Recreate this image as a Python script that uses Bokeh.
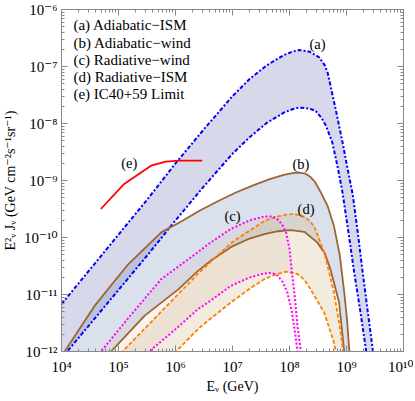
import numpy as np
from bokeh.plotting import figure
from bokeh.models import FixedTicker, LogAxis, Label, CustomJSTickFormatter
from bokeh.core.properties import value
from bokeh.embed import file_html
from bokeh.resources import INLINE

# ---------------- data (log10 E [GeV], log10 E^2 J [GeV cm^-2 s^-1 sr^-1]) ----------------
a_up_logE = [4.0, 4.5, 5.0, 5.5, 6.0, 6.5, 7.0, 7.3, 7.6, 7.9, 8.05, 8.17, 8.35, 8.52, 8.62, 8.67, 8.72,
             8.81, 8.93, 9.05, 9.11, 9.20, 9.28, 9.37, 9.46, 9.48]
a_up_logF = [-11.17, -10.56, -9.95, -9.34, -8.70, -8.10, -7.52, -7.22, -6.98, -6.80, -6.74, -6.71, -6.74, -6.84, -6.98, -7.11,
             -7.34, -7.75, -8.33, -8.95, -9.25, -9.93, -10.58, -11.28, -11.96, -12.1]
a_lo_logE = [4.0, 4.5, 5.0, 5.5, 6.0, 6.5, 7.0, 7.3, 7.6, 7.9, 8.05, 8.17, 8.35, 8.46, 8.56, 8.64, 8.75,
             8.84, 8.93, 9.03, 9.13, 9.24, 9.34, 9.36]
a_lo_logF = [-12.12, -11.52, -10.92, -10.32, -9.70, -9.10, -8.53, -8.24, -7.99, -7.81, -7.75, -7.72, -7.74, -7.78, -7.90, -8.04,
             -8.33, -8.74, -9.21, -9.88, -10.58, -11.28, -11.96, -12.1]

b_up_logE = [4.0, 4.06, 4.58, 5.17, 5.75, 6.1, 6.42, 6.75, 7.06, 7.35, 7.64, 7.9, 8.05, 8.17, 8.28, 8.37, 8.45, 8.55,
             8.67, 8.78, 8.88, 8.96, 9.01, 9.05, 9.06]
b_up_logF = [-12.1, -11.99, -11.2, -10.47, -9.91, -9.72, -9.53, -9.36, -9.21, -9.09, -8.98, -8.90, -8.87, -8.86, -8.88, -8.94,
             -9.03, -9.21, -9.45, -9.80, -10.3, -10.96, -11.45, -12.0, -12.1]
b_lo_logE = [4.85, 4.88, 5.46, 6.05, 6.39, 6.63, 6.97, 7.27, 7.56, 7.80, 8.02, 8.26, 8.49, 8.62, 8.72, 8.87, 8.96, 8.97]
b_lo_logF = [-12.05, -11.99, -11.37, -10.91, -10.59, -10.40, -10.17, -10.03, -9.94, -9.89, -9.87, -9.90, -10.09, -10.28,
             -10.56, -11.14, -12.0, -12.1]

c_up_logE = [4.68, 4.70, 5.2, 5.75, 6.39, 6.57, 6.97, 7.3, 7.56, 7.70, 7.79, 7.87, 7.94, 8.00, 8.05, 8.10, 8.14, 8.20, 8.21]
c_up_logF = [-12.05, -11.99, -11.38, -10.73, -10.26, -10.12, -9.85, -9.70, -9.63, -9.63, -9.68, -9.77, -9.91, -10.20, -10.67,
             -11.1, -11.55, -12.0, -12.1]
c_lo_logE = [5.53, 5.55, 6.0, 6.39, 6.57, 6.97, 7.3, 7.56, 7.70, 7.79, 7.88, 7.96, 8.03, 8.08, 8.14, 8.15]
c_lo_logF = [-12.05, -11.99, -11.61, -11.26, -11.14, -10.85, -10.70, -10.63, -10.62, -10.67, -10.78, -10.96, -11.25, -11.55,
             -12.0, -12.1]

d_up_logE = [5.06, 5.08, 5.75, 6.39, 6.97, 7.3, 7.56, 7.75, 7.94, 8.07, 8.20, 8.32, 8.43, 8.61, 8.78, 8.90, 8.94, 8.95]
d_up_logF = [-12.05, -11.99, -11.30, -10.64, -10.10, -9.88, -9.71, -9.64, -9.60, -9.59, -9.61, -9.68, -9.80, -10.26, -10.96,
             -11.67, -12.0, -12.1]
d_lo_logE = [6.00, 6.02, 6.39, 6.57, 6.97, 7.3, 7.56, 7.75, 7.94, 8.14, 8.26, 8.37, 8.61, 8.78, 8.81, 8.82]
d_lo_logF = [-12.05, -11.99, -11.61, -11.46, -11.14, -10.90, -10.73, -10.65, -10.60, -10.64, -10.74, -10.91, -11.32, -11.84,
             -12.0, -12.1]

e_logE = [4.69, 5.10, 5.57, 5.83, 6.06, 6.47]
e_logF = [-9.50, -9.06, -8.74, -8.67, -8.65, -8.65]

legend_labels = ["(a) Adiabatic\u2212ISM", "(b) Adiabatic\u2212wind", "(c) Radiative\u2212wind",
                 "(d) Radiative\u2212ISM", "(e) IC40+59 Limit"]
curve_tags = ["(a)", "(b)", "(c)", "(d)", "(e)"]

x_ticks = [1e4, 1e5, 1e6, 1e7, 1e8, 1e9, 1e10]
x_tick_labels = ["10\u2074", "10\u2075", "10\u2076", "10\u2077", "10\u2078", "10\u2079", "10\u00b9\u2070"]
y_ticks = [1e-12, 1e-11, 1e-10, 1e-9, 1e-8, 1e-7, 1e-6]
y_tick_labels = ["10\u207b\u00b9\u00b2", "10\u207b\u00b9\u00b9", "10\u207b\u00b9\u2070", "10\u207b\u2079",
                 "10\u207b\u2078", "10\u207b\u2077", "10\u207b\u2076"]

# ---------------- styling / layout (not data) ----------------
FONT = "Liberation Serif, DejaVu Serif, serif"
tag_pos = [(8.49, -6.61), (8.20, -8.71), (7.0, -9.62), (8.29, -9.50), (5.19, -8.70)]
legend_pos_logE = 4.21
legend_pos_logF = [-6.28, -6.59, -6.89, -7.19, -7.48]


def p10(v):
    return list(np.power(10.0, np.array(v, dtype=float)))


p = figure(x_axis_type="log", y_axis_type="log", x_range=(1e4, 1e10), y_range=(1e-12, 1e-6),
           frame_width=342, frame_height=342, min_border_left=51, min_border_right=10,
           min_border_top=9, min_border_bottom=40, output_backend="svg", toolbar_location=None,
           background_fill_color="white", border_fill_color="white")
p.grid.visible = False
p.outline_line_color = "#888888"

xax = p.xaxis[0]
yax = p.yaxis[0]

x_minor = [k * 10.0 ** n for n in range(4, 10) for k in range(2, 10)]
y_minor = [k * 10.0 ** n for n in range(-12, -6) for k in range(2, 10)]

fmt_code = ("const i = tick_vals.findIndex(t => Math.abs(Math.log10(t) - Math.log10(tick)) < 1e-6);"
            "return i >= 0 ? tick_labels[i] : '';")
blank_code = "return '';"


def style_axis(ax, ticks, minor, labels, show):
    ax.ticker = FixedTicker(ticks=ticks, minor_ticks=minor)
    if show:
        ax.formatter = CustomJSTickFormatter(args=dict(tick_vals=ticks, tick_labels=labels), code=fmt_code)
    else:
        ax.formatter = CustomJSTickFormatter(code=blank_code)
        ax.major_label_standoff = 0
    ax.major_tick_in = 6
    ax.major_tick_out = 0
    ax.minor_tick_in = 3
    ax.minor_tick_out = 0
    ax.axis_line_color = "#888888"
    ax.major_tick_line_color = "#888888"
    ax.minor_tick_line_color = "#888888"
    ax.major_label_text_font = FONT
    ax.major_label_text_font_size = "15px" if show else "1px"
    ax.major_label_text_color = "black"


style_axis(xax, x_ticks, x_minor, x_tick_labels, True)
style_axis(yax, y_ticks, y_minor, y_tick_labels, True)
xax.major_label_standoff = 7
yax.major_label_standoff = 4

xax.axis_label = "E\u1d65 (GeV)"
yax.axis_label = "E\u00b2\u1d65 J\u1d65 (GeV cm\u207b\u00b2s\u207b\u00b9sr\u207b\u00b9)"
for ax in (xax, yax):
    ax.axis_label_text_font = FONT
    ax.axis_label_text_font_size = "14px"
    ax.axis_label_text_font_style = "normal"
    ax.axis_label_text_color = "black"
xax.axis_label_standoff = 1
yax.axis_label_standoff = 3

top = LogAxis()
right = LogAxis()
style_axis(top, x_ticks, x_minor, x_tick_labels, False)
style_axis(right, y_ticks, y_minor, y_tick_labels, False)
p.add_layout(top, "above")
p.add_layout(right, "right")


def band(up_e, up_f, lo_e, lo_f, color, alpha):
    xs = p10(up_e) + p10(lo_e)[::-1]
    ys = p10(up_f) + p10(lo_f)[::-1]
    p.patch(xs, ys, fill_color=color, fill_alpha=alpha, line_color=None)


band(a_up_logE, a_up_logF, a_lo_logE, a_lo_logF, "#3c3c9c", 0.20)
band(b_up_logE, b_up_logF, b_lo_logE, b_lo_logF, "#5a78aa", 0.22)
band(d_up_logE, d_up_logF, d_lo_logE, d_lo_logF, "#c0a060", 0.20)
band(c_up_logE, c_up_logF, c_lo_logE, c_lo_logF, "#d09080", 0.12)

blue = "#0000ff"
brown = "#996633"
magenta = "#ff00ff"
orange = "#ff8000"
red = "#ff0000"

for e_, f_ in ((a_up_logE, a_up_logF), (a_lo_logE, a_lo_logF)):
    p.line(p10(e_), p10(f_), line_color=blue, line_width=2, line_dash="4 2 2 2")
for e_, f_ in ((b_up_logE, b_up_logF), (b_lo_logE, b_lo_logF)):
    p.line(p10(e_), p10(f_), line_color=brown, line_width=1.8)
for e_, f_ in ((d_up_logE, d_up_logF), (d_lo_logE, d_lo_logF)):
    p.line(p10(e_), p10(f_), line_color=orange, line_width=1.8, line_dash="4 2")
for e_, f_ in ((c_up_logE, c_up_logF), (c_lo_logE, c_lo_logF)):
    p.line(p10(e_), p10(f_), line_color=magenta, line_width=2, line_dash="2 2")
p.line(p10(e_logE), p10(e_logF), line_color=red, line_width=1.8)

for tag, (le, lf) in zip(curve_tags, tag_pos):
    p.add_layout(Label(x=10 ** le, y=10 ** lf, text=tag, text_font=FONT, text_font_size="14.5px",
                       text_align="center", text_baseline="middle", text_color="black"))

for txt, lf in zip(legend_labels, legend_pos_logF):
    p.add_layout(Label(x=10 ** legend_pos_logE, y=10 ** lf, text=txt, text_font=FONT,
                       text_font_size="15px", text_align="left", text_baseline="middle",
                       text_color="black"))

open("out.html", "w").write(file_html(p, INLINE))
